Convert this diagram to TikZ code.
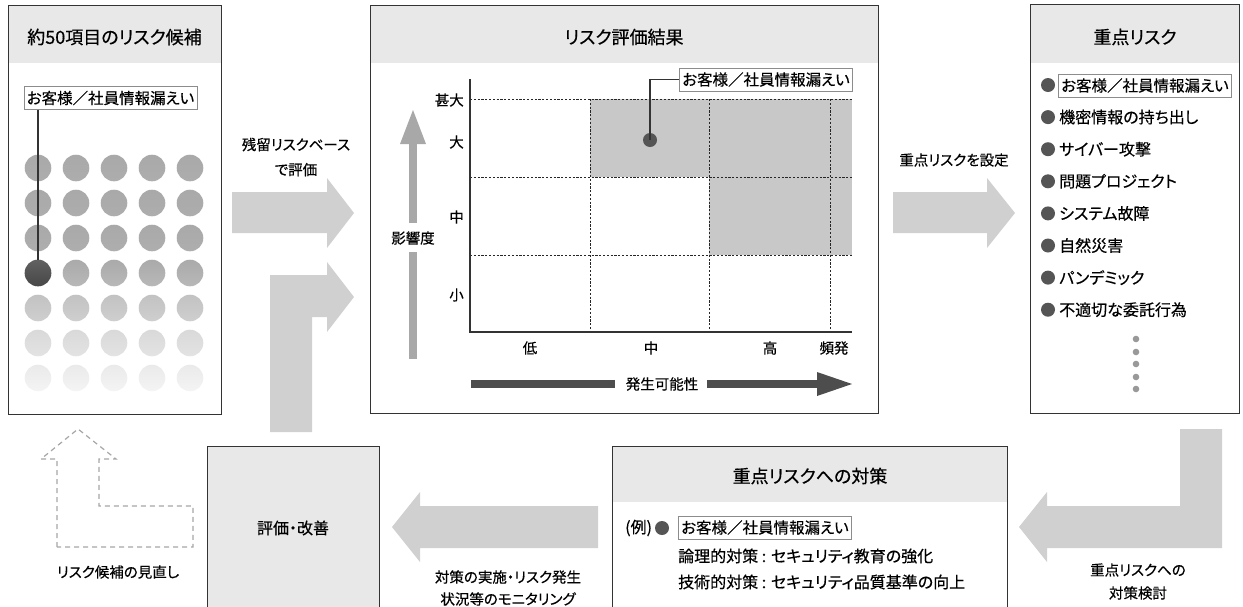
\documentclass[tikz,border=0pt]{standalone}
\usepackage{fontspec}
\setmainfont{Noto Sans CJK JP}[RawFeature=+palt, FakeBold=0.4]
\usetikzlibrary{calc}
\definecolor{hdr}{HTML}{E8E8E8}
\definecolor{arrowgray}{HTML}{D0D0D0}
\definecolor{border}{HTML}{333333}
\definecolor{darkdot}{HTML}{555555}
\definecolor{cellgray}{HTML}{C8C8C8}
\definecolor{axisarrow}{HTML}{A8A8A8}
\definecolor{darkarrow}{HTML}{4D4D4D}
\definecolor{smalldot}{HTML}{999999}
\begin{document}
\begin{tikzpicture}[x=1pt,y=-1pt,
  panel/.style={draw=border, line width=1.3pt, fill=none, inner sep=0pt, anchor=north west},
  hdrbox/.style={fill=hdr, draw=none, inner sep=0pt, anchor=north west},
  ttl/.style={font=\fontsize{18}{20}\selectfont, inner sep=0pt},
  bodytxt/.style={font=\fontsize{16}{18}\selectfont, inner sep=0pt},
  smalltxt/.style={font=\fontsize{14.5}{16}\selectfont, inner sep=0pt, align=center},
  lbox/.style={draw=black!45, line width=0.9pt, fill=white, font=\fontsize{15.5}{17}\selectfont, minimum width=173pt, minimum height=23pt, inner sep=0pt},
  blockarrow/.style={fill=arrowgray, draw=none},
  bul/.style={circle, fill=darkdot, minimum size=14pt, inner sep=0pt},
  dashedarrow/.style={draw=black!35, line width=1.2pt, dash pattern=on 5pt off 4pt},
  dotline/.style={draw=black!85, line width=1pt, dash pattern=on 2.2pt off 1.6pt},
]
\useasboundingbox (0,0) rectangle (1243,606);
\clip (0,0) rectangle (1243,606);

% ---------------- left panel ----------------
\node[hdrbox, minimum width=213pt, minimum height=58pt] (Lhdr) at (8,5) {};
\node[panel, minimum width=213pt, minimum height=409pt] (Lpanel) at (8,5) {};
\node[ttl] (Ltitle) at (114.5,37) {約50項目のリスク候補};
\foreach \r/\ct/\cb in {0/A9A9A9/ADADAD,1/A9A9A9/ADADAD,2/A9A9A9/AEAEAE,3/AAAAAA/B8B8B8,4/C2C2C2/CFCFCF,5/D9D9D9/E3E3E3,6/EAEAEA/F4F4F4}{
  \definecolor{dtop}{HTML}{\ct}
  \definecolor{dbot}{HTML}{\cb}
  \foreach \c in {0,...,4}{
    \shade[top color=dtop, bottom color=dbot] ({38+38*\c},{168+35*\r}) circle[radius=13.3pt];
  }
}
\node[circle, minimum size=26.6pt, inner sep=0pt, top color=black!62, bottom color=black!72] (Ldark) at (38,273) {};
\node[lbox] (Llabel) at (110.5,98) {お客様／社員情報漏えい};
\draw[border, line width=1.3pt] (Llabel.south -| Ldark.center) -- (Ldark.north);

% ---------------- arrows left -> center ----------------
\node[smalltxt, font=\fontsize{14.5}{25}\selectfont] (A1txt) at (296,157) {残留リスクベース\\で評価};
\fill[blockarrow] (232,192) -- (327,192) -- (327,178) -- (354,213) -- (327,248) -- (327,233) -- (232,233) -- cycle;
\fill[blockarrow] (270,432) -- (270,275) -- (327,275) -- (327,262) -- (354,297) -- (327,332) -- (327,317) -- (312,317) -- (312,432) -- cycle;

% ---------------- center panel ----------------
\node[hdrbox, minimum width=508pt, minimum height=58pt] (Chdr) at (370,5) {};
\node[panel, minimum width=508pt, minimum height=408pt] (Cpanel) at (370,5) {};
\node[ttl] (Ctitle) at (624,37) {リスク評価結果};
\fill[cellgray] (590,99) rectangle (852,177);
\fill[cellgray] (709,177) rectangle (852,255);
\foreach \yy in {99,177,255}{ \draw[dotline] (470,\yy) -- (852,\yy); }
\foreach \xx in {590,709,830}{ \draw[dotline] (\xx,99) -- (\xx,332); }
\draw[border, line width=1.3pt] (470,79) -- (470,332) -- (852,332);
\node[smalltxt, anchor=east] (y1) at (464,100) {甚大};
\node[smalltxt, anchor=east] (y2) at (464,142) {大};
\node[smalltxt, anchor=east] (y3) at (464,217) {中};
\node[smalltxt, anchor=east] (y4) at (464,295) {小};
\node[smalltxt] (x1) at (530,348) {低};
\node[smalltxt] (x2) at (651,348) {中};
\node[smalltxt] (x3) at (770,348) {高};
\node[smalltxt] (x4) at (834,348) {頻発};
\node[bul] (Cdot) at (650,140) {};
\node[lbox] (Clabel) at (766,79.5) {お客様／社員情報漏えい};
\draw[border, line width=1.3pt] (Cdot.center) |- (Clabel.west);
% vertical axis arrow
\node[smalltxt] (Yaxis) at (413,238) {影響度};
\fill[axisarrow] (409,359) rectangle (417,252);
\fill[axisarrow] (409,223) rectangle (417,143);
\fill[axisarrow] (400,144) -- (413,110) -- (426,144) -- cycle;
% horizontal axis arrow
\node[smalltxt] (Xaxis) at (662,384) {発生可能性};
\fill[darkarrow] (471,380) rectangle (615,388);
\fill[darkarrow] (707,380) rectangle (818,388);
\fill[darkarrow] (817,372) -- (852,384) -- (817,396) -- cycle;

% ---------------- arrow center -> right ----------------
\node[smalltxt] (A3txt) at (954,160) {重点リスクを設定};
\fill[blockarrow] (893,192) -- (987,192) -- (987,178) -- (1015,213) -- (987,248) -- (987,233) -- (893,233) -- cycle;

% ---------------- right panel ----------------
\node[hdrbox, minimum width=209pt, minimum height=59pt] (Rhdr) at (1030,4) {};
\node[panel, minimum width=209pt, minimum height=409pt] (Rpanel) at (1030,4) {};
\node[ttl] (Rtitle) at (1135,37) {重点リスク};
\node[lbox, anchor=west] (Rlabel) at (1058,85.5) {お客様／社員情報漏えい};
\foreach \i/\t in {1/機密情報の持ち出し,2/サイバー攻撃,3/問題プロジェクト,4/システム故障,5/自然災害,6/パンデミック,7/不適切な委託行為}{
  \node[bodytxt, anchor=west] (Ritem\i) at (1059,{85+32.1*\i}) {\t};
}
\foreach \i in {0,...,7}{
  \node[bul] (Rbul\i) at (1048,{85+32.1*\i}) {};
}
\foreach \yy in {339,352,364,377,389}{
  \fill[smalldot] (1136,\yy) circle[radius=3.3pt];
}

% ---------------- bottom right L arrow ----------------
\fill[blockarrow] (1180,429) -- (1222,429) -- (1222,548) -- (1047,548) -- (1047,562) -- (1019,527) -- (1047,492) -- (1047,506) -- (1180,506) -- cycle;
\node[smalltxt, font=\fontsize{14.5}{23}\selectfont] (A4txt) at (1138,581.5) {重点リスクへの\\対策検討};

% ---------------- countermeasure box ----------------
\node[hdrbox, minimum width=395pt, minimum height=56pt] (Mhdr) at (612,446) {};
\node[panel, minimum width=395pt, minimum height=170pt] (Mpanel) at (612,446) {};
\node[ttl] (Mtitle) at (810,476) {重点リスクへの対策};
\node[bodytxt, anchor=west] (Mex) at (625,528) {(例)};
\node[bul] (Mbul) at (662,528) {};
\node[lbox, anchor=west] (Mlabel) at (678,527.5) {お客様／社員情報漏えい};
\node[bodytxt, anchor=west] (M1) at (678,556) {論理的対策 : セキュリティ教育の強化};
\node[bodytxt, anchor=west] (M2) at (678,582) {技術的対策 : セキュリティ品質基準の向上};

% ---------------- arrow countermeasure -> evaluation ----------------
\fill[blockarrow] (598,506) -- (420,506) -- (420,492) -- (392,527) -- (420,562) -- (420,548) -- (598,548) -- cycle;
\node[smalltxt, font=\fontsize{14.5}{22}\selectfont] (A5txt) at (508,588) {対策の実施・リスク発生\\状況等のモニタリング};

% ---------------- evaluation box ----------------
\node[panel, fill=hdr, minimum width=172pt, minimum height=170pt] (Eval) at (207,446) {};
\node[bodytxt] (Evaltxt) at (293,528) {評価・改善};

% ---------------- dashed review arrow ----------------
\draw[dashedarrow] (57,547) -- (57,459) -- (41,459) -- (78,429) -- (116,459) -- (99,459) -- (99,506) -- (193,506) -- (193,547) -- cycle;
\node[smalltxt] (A6txt) at (118,572) {リスク候補の見直し};
\end{tikzpicture}
\end{document}
